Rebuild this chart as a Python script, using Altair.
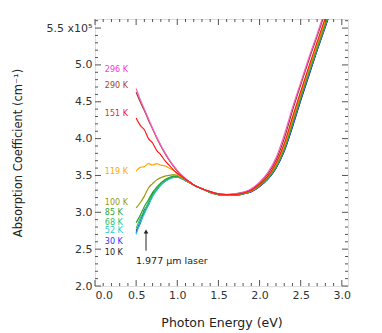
import altair as alt
import pandas as pd

# Photon energy grid (eV)
energy = [0.5, 0.55, 0.6, 0.65, 0.7, 0.75, 0.8, 0.85, 0.9, 0.95, 1.0, 1.05, 1.1, 1.15, 1.2,
          1.3, 1.4, 1.5, 1.6, 1.7, 1.8, 1.9, 2.0, 2.1, 2.2, 2.3, 2.4, 2.5, 2.6, 2.7, 2.8, 2.9]

# Absorption coefficient (x10^5 cm^-1) per temperature
k296 = [4.68, 4.53, 4.40, 4.27, 4.14, 4.02, 3.91, 3.81, 3.72, 3.64, 3.57, 3.51, 3.46, 3.41, 3.37,
        3.32, 3.28, 3.25, 3.24, 3.25, 3.27, 3.32, 3.41, 3.54, 3.74, 4.05, 4.42, 4.76, 5.10, 5.42, 5.75, 6.05]
k290 = [4.63, 4.50, 4.38, 4.25, 4.13, 4.01, 3.90, 3.80, 3.71, 3.63, 3.56, 3.50, 3.45, 3.41, 3.37,
        3.32, 3.28, 3.25, 3.24, 3.25, 3.27, 3.31, 3.40, 3.52, 3.71, 4.00, 4.38, 4.73, 5.07, 5.39, 5.72, 6.03]
k151 = [4.28, 4.18, 4.12, 4.00, 3.94, 3.84, 3.78, 3.70, 3.64, 3.58, 3.53, 3.49, 3.45, 3.41, 3.37,
        3.32, 3.28, 3.25, 3.24, 3.24, 3.26, 3.30, 3.38, 3.49, 3.67, 3.93, 4.29, 4.64, 4.98, 5.31, 5.64, 5.95]
k119 = [3.56, 3.61, 3.62, 3.66, 3.64, 3.66, 3.64, 3.63, 3.60, 3.57, 3.52, 3.48, 3.44, 3.40, 3.37,
        3.32, 3.28, 3.25, 3.24, 3.24, 3.26, 3.30, 3.38, 3.49, 3.66, 3.91, 4.27, 4.62, 4.96, 5.29, 5.62, 5.94]
k100 = [3.06, 3.13, 3.22, 3.33, 3.39, 3.44, 3.47, 3.49, 3.50, 3.51, 3.50, 3.48, 3.45, 3.41, 3.37,
        3.32, 3.27, 3.24, 3.23, 3.24, 3.26, 3.29, 3.37, 3.48, 3.64, 3.89, 4.24, 4.59, 4.93, 5.26, 5.59, 5.92]
k85 = [2.86, 2.96, 3.08, 3.17, 3.27, 3.34, 3.40, 3.44, 3.47, 3.49, 3.49, 3.47, 3.44, 3.41, 3.37,
       3.32, 3.27, 3.24, 3.23, 3.23, 3.25, 3.29, 3.36, 3.46, 3.62, 3.86, 4.20, 4.56, 4.90, 5.23, 5.55, 5.88]
k68 = [2.78, 2.92, 3.02, 3.14, 3.24, 3.32, 3.38, 3.43, 3.46, 3.48, 3.48, 3.47, 3.44, 3.40, 3.37,
       3.32, 3.27, 3.24, 3.23, 3.23, 3.25, 3.29, 3.36, 3.46, 3.62, 3.86, 4.20, 4.56, 4.90, 5.23, 5.55, 5.88]
k52 = [2.70, 2.86, 2.98, 3.10, 3.21, 3.30, 3.37, 3.42, 3.45, 3.47, 3.48, 3.46, 3.43, 3.40, 3.37,
       3.32, 3.27, 3.24, 3.23, 3.23, 3.25, 3.29, 3.36, 3.46, 3.62, 3.86, 4.20, 4.56, 4.90, 5.23, 5.55, 5.88]
k30 = [2.72, 2.88, 3.00, 3.12, 3.23, 3.31, 3.37, 3.42, 3.46, 3.48, 3.48, 3.46, 3.43, 3.40, 3.37,
       3.32, 3.27, 3.24, 3.23, 3.23, 3.25, 3.28, 3.35, 3.45, 3.60, 3.83, 4.16, 4.52, 4.86, 5.20, 5.52, 5.85]
k10 = [2.75, 2.85, 3.03, 3.10, 3.25, 3.30, 3.39, 3.42, 3.46, 3.48, 3.48, 3.46, 3.43, 3.40, 3.37,
       3.32, 3.27, 3.24, 3.23, 3.23, 3.25, 3.28, 3.35, 3.45, 3.60, 3.83, 4.16, 4.52, 4.86, 5.20, 5.52, 5.85]

temps = ["296 K", "290 K", "151 K", "119 K", "100 K", "85 K", "68 K", "52 K", "30 K", "10 K"]
series = [k296, k290, k151, k119, k100, k85, k68, k52, k30, k10]
line_colors = ["#ff5cc8", "#8b3a1a", "#ff1a1a", "#ffa500", "#9a9a10", "#2e9e2e", "#2ec46a", "#22cccc", "#3a3aff", "#222222"]
label_colors = ["#ff33dd", "#a0461e", "#ff2020", "#ffaa00", "#9a9a10", "#2eaa2e", "#2ec46a", "#22cccc", "#3030ff", "#222222"]

# temperature label anchor (data units)
label_x = [0.12] * 10
label_y = [4.93, 4.71, 4.34, 3.55, 3.13, 2.99, 2.86, 2.74, 2.60, 2.45]

# axis tick positions
x_major = [0.0, 0.5, 1.0, 1.5, 2.0, 2.5, 3.0]
x_minor = [0.1, 0.2, 0.3, 0.4, 0.6, 0.7, 0.8, 0.9, 1.1, 1.2, 1.3, 1.4, 1.6, 1.7, 1.8, 1.9,
           2.1, 2.2, 2.3, 2.4, 2.6, 2.7, 2.8, 2.9]
y_major = [2.0, 2.5, 3.0, 3.5, 4.0, 4.5, 5.0, 5.5]
y_minor = [2.1, 2.2, 2.3, 2.4, 2.6, 2.7, 2.8, 2.9, 3.1, 3.2, 3.3, 3.4, 3.6, 3.7, 3.8, 3.9,
           4.1, 4.2, 4.3, 4.4, 4.6, 4.7, 4.8, 4.9, 5.1, 5.2, 5.3, 5.4, 5.6]

laser_x = [0.62]
laser_y = [2.48]
laser_y2 = [2.74]

W, H = 253, 267
FONT = "DejaVu Sans"
AX = "#333333"

xscale = alt.Scale(domain=[0, 3.075], nice=False, zero=False)
yscale = alt.Scale(domain=[2.0, 5.623], nice=False, zero=False)

xaxis = alt.Axis(values=x_major, format=".1f", ticks=False, domain=False, grid=False,
                 labelFont=FONT, labelFontSize=11, labelColor=AX, labelPadding=3,
                 title="Photon Energy (eV)", titleFont=FONT, titleFontSize=12.5,
                 titleFontWeight="normal", titleColor="#222", titleX=W / 2, titleY=36,
                 titleBaseline="middle", titleAnchor="middle")
yaxis = alt.Axis(values=y_major, format=".1f", ticks=False, domain=False, grid=False,
                 labelExpr="datum.value == 5.5 ? '5.5 x10⁵' : format(datum.value, '.1f')",
                 labelFont=FONT, labelFontSize=11, labelColor=AX, labelPadding=3,
                 title="Absorption Coefficient (cm⁻¹)", titleFont=FONT, titleFontSize=11.5,
                 titleFontWeight="normal", titleColor="#222", titleX=-77, titleY=H / 2,
                 titleBaseline="middle", titleAngle=-90, titleAnchor="middle")


def X(field):
    return alt.X(field, scale=xscale, axis=xaxis)


def Y(field):
    return alt.Y(field, scale=yscale, axis=yaxis)


rows = []
for t, vals in zip(temps, series):
    for e, v in zip(energy, vals):
        rows.append({"T": t, "E": e, "K": v})
df = pd.DataFrame(rows)

draw_order = ["10 K", "30 K", "52 K", "68 K", "85 K", "100 K", "119 K", "290 K", "296 K", "151 K"]
layers = []
for t in draw_order:
    c = line_colors[temps.index(t)]
    sub = df[df["T"] == t]
    layers.append(
        alt.Chart(sub).mark_line(strokeWidth=1.2, interpolate="monotone", clip=True).encode(
            x=X("E:Q"), y=Y("K:Q"), color=alt.value(c),
        )
    )

lab_df = pd.DataFrame({"T": temps, "x": label_x, "y": label_y, "c": label_colors})
labels = alt.Chart(lab_df).mark_text(align="left", baseline="middle", font=FONT, fontSize=8).encode(
    x=X("x:Q"), y=Y("y:Q"), text="T:N", color=alt.Color("c:N", scale=None),
)


def tick_df(vals, kind):
    return pd.DataFrame({"v": vals, "kind": [kind] * len(vals)})


xt = pd.concat([tick_df(x_major, "major"), tick_df(x_minor, "minor")])
yt = pd.concat([tick_df(y_major, "major"), tick_df(y_minor, "minor")])

tick_layers = []
for kind, ln in (("major", 6), ("minor", 3)):
    xd = xt[xt["kind"] == kind]
    yd = yt[yt["kind"] == kind]
    tick_layers.append(alt.Chart(xd).mark_rule(color="#555", strokeWidth=1).encode(
        x=X("v:Q"), y=alt.value(H), y2=alt.value(H - ln)))
    tick_layers.append(alt.Chart(xd).mark_rule(color="#555", strokeWidth=1).encode(
        x=X("v:Q"), y=alt.value(0), y2=alt.value(ln)))
    tick_layers.append(alt.Chart(yd).mark_rule(color="#555", strokeWidth=1).encode(
        y=Y("v:Q"), x=alt.value(0), x2=alt.value(ln)))
    tick_layers.append(alt.Chart(yd).mark_rule(color="#555", strokeWidth=1).encode(
        y=Y("v:Q"), x=alt.value(W), x2=alt.value(W - ln)))

laser_df = pd.DataFrame({"x": laser_x, "y": laser_y, "y2": laser_y2, "txt": ["1.977 µm laser"]})
arrow_line = alt.Chart(laser_df).mark_rule(color="#222", strokeWidth=1).encode(
    x=X("x:Q"), y=Y("y:Q"), y2="y2:Q",
)
arrow_head = alt.Chart(laser_df).mark_point(shape="triangle-up", filled=True, size=22, color="#222", opacity=1).encode(
    x=X("x:Q"), y=Y("y2:Q"),
)
laser_text = alt.Chart(laser_df).mark_text(align="left", baseline="middle", dx=-10, dy=10,
                                           font=FONT, fontSize=9.5, color="#222").encode(
    x=X("x:Q"), y=Y("y:Q"), text="txt:N",
)

chart = alt.layer(*layers, labels, *tick_layers, arrow_line, arrow_head, laser_text).properties(
    width=W, height=H,
    autosize=alt.AutoSizeParams(type="none"),
    padding={"left": 87, "top": 11, "right": 25, "bottom": 45},
).configure_view(stroke="#444", strokeWidth=1).configure(background="white")

chart.save("out.html", embed_options={"renderer": "svg", "actions": False})
